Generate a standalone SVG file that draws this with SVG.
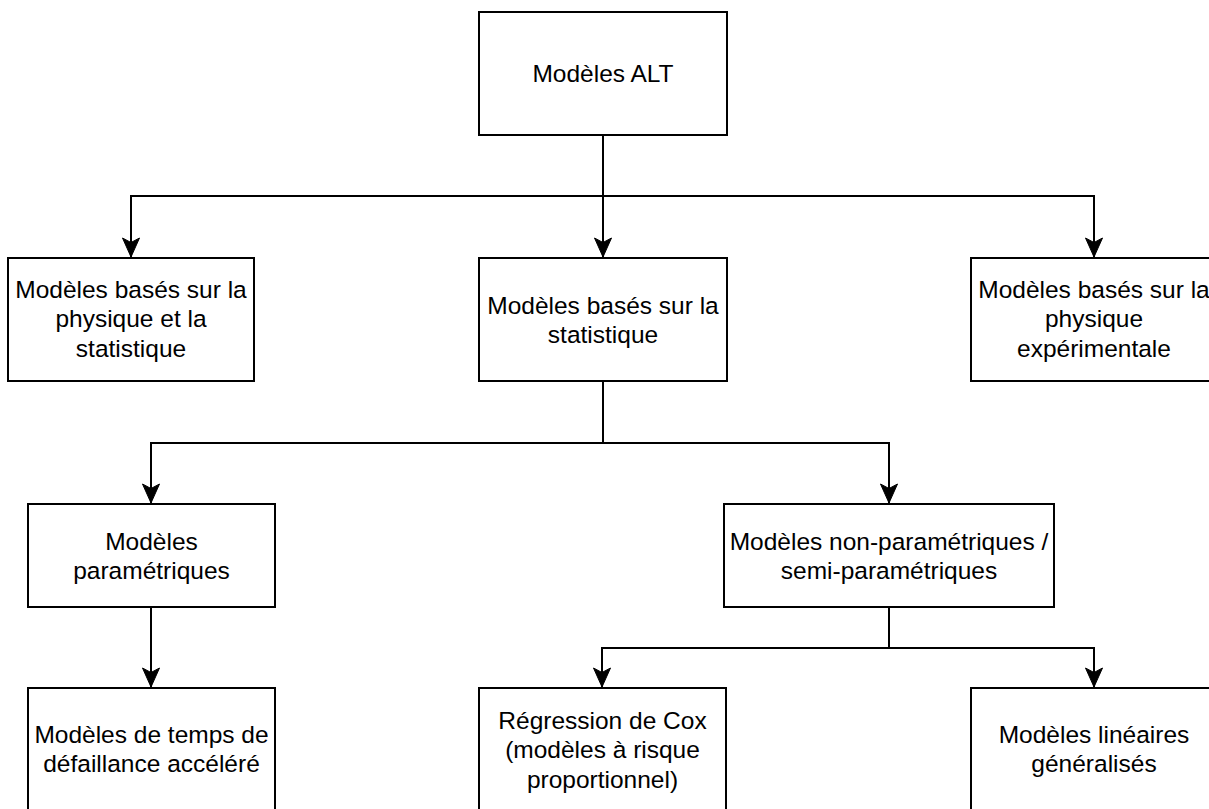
<svg xmlns="http://www.w3.org/2000/svg" width="1209" height="809" viewBox="0 0 1209 809">
<defs>
<style>
.box{fill:#ffffff;stroke:#000000;stroke-width:2}
.lbl{font-family:"Liberation Sans",Arial,Helvetica,sans-serif;font-size:24.5px;fill:#000000;text-anchor:middle}
.edge{fill:none;stroke:#000000;stroke-width:2}
</style>
<marker id="arr" viewBox="-1 -10 21 20" refX="19" refY="0" markerWidth="21" markerHeight="20" markerUnits="userSpaceOnUse" orient="auto">
<path d="M19,0 L0,-8.5 L4.5,0 L0,8.5 Z" fill="#000000" stroke="#000000" stroke-width="1"/>
</marker>
</defs>
<rect width="1209" height="809" fill="#ffffff"/>
<g id="connectors">
<polyline class="edge" points="603,135 603,257" marker-end="url(#arr)"/>
<polyline class="edge" points="603,196 131,196 131,257" marker-end="url(#arr)"/>
<polyline class="edge" points="603,196 1094,196 1094,257" marker-end="url(#arr)"/>
<polyline class="edge" points="603,381 603,443 151,443 151,503" marker-end="url(#arr)"/>
<polyline class="edge" points="603,443 889,443 889,503" marker-end="url(#arr)"/>
<polyline class="edge" points="151,607 151,687" marker-end="url(#arr)"/>
<polyline class="edge" points="889,607 889,648 602,648 602,687" marker-end="url(#arr)"/>
<polyline class="edge" points="889,648 1094,648 1094,687" marker-end="url(#arr)"/>
</g>
<g id="node-alt">
<rect class="box" x="479" y="12" width="248" height="123"/>
<text class="lbl" x="603" y="82">Modèles ALT</text>
</g>
<g id="node-phys-stat">
<rect class="box" x="8" y="258" width="246" height="123"/>
<text class="lbl" x="131" y="298">Modèles basés sur la</text>
<text class="lbl" x="131" y="327">physique et la</text>
<text class="lbl" x="131" y="357">statistique</text>
</g>
<g id="node-stat">
<rect class="box" x="479" y="258" width="248" height="123"/>
<text class="lbl" x="603" y="314">Modèles basés sur la</text>
<text class="lbl" x="603" y="343">statistique</text>
</g>
<g id="node-phys-exp">
<rect class="box" x="971" y="258" width="246" height="123"/>
<text class="lbl" x="1094" y="298">Modèles basés sur la</text>
<text class="lbl" x="1094" y="327">physique</text>
<text class="lbl" x="1094" y="357">expérimentale</text>
</g>
<g id="node-param">
<rect class="box" x="28" y="504" width="247" height="103"/>
<text class="lbl" x="151.5" y="550">Modèles</text>
<text class="lbl" x="151.5" y="579">paramétriques</text>
</g>
<g id="node-nonparam">
<rect class="box" x="724" y="504" width="330" height="103"/>
<text class="lbl" x="889" y="550">Modèles non-paramétriques /</text>
<text class="lbl" x="889" y="579">semi-paramétriques</text>
</g>
<g id="node-aft">
<rect class="box" x="28" y="688" width="247" height="123"/>
<text class="lbl" x="151.5" y="743">Modèles de temps de</text>
<text class="lbl" x="151.5" y="772">défaillance accéléré</text>
</g>
<g id="node-cox">
<rect class="box" x="479" y="688" width="247" height="123"/>
<text class="lbl" x="602.5" y="729">Régression de Cox</text>
<text class="lbl" x="602.5" y="758">(modèles à risque</text>
<text class="lbl" x="602.5" y="788">proportionnel)</text>
</g>
<g id="node-glm">
<rect class="box" x="971" y="688" width="246" height="123"/>
<text class="lbl" x="1094" y="743">Modèles linéaires</text>
<text class="lbl" x="1094" y="772">généralisés</text>
</g>
</svg>
